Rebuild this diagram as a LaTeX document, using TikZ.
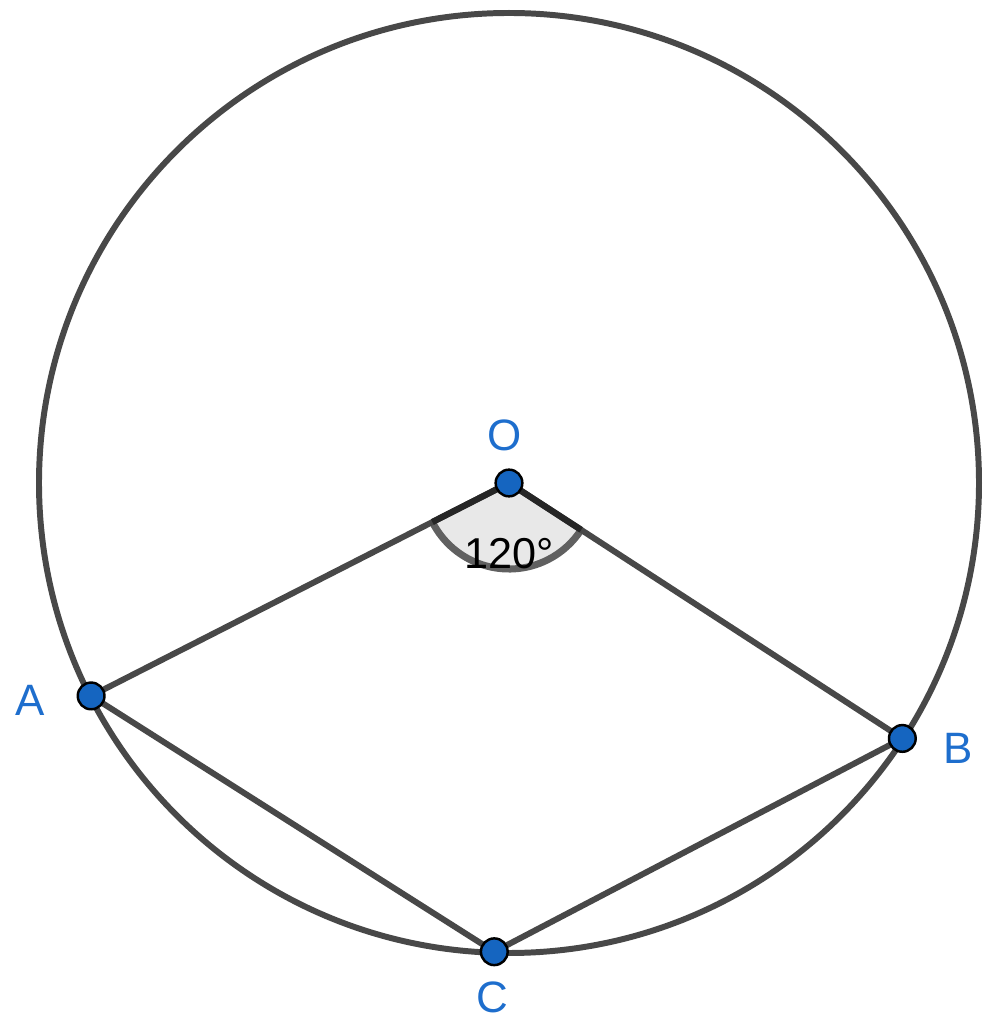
\documentclass[tikz,border=0pt]{standalone}
\usepackage{fontspec}
\setmainfont{Liberation Sans}
\usetikzlibrary{calc}
\definecolor{linegray}{RGB}{72,72,72}
\definecolor{ptblue}{RGB}{21,101,192}
\definecolor{lblblue}{RGB}{30,110,205}
\begin{document}
\begin{tikzpicture}[
  seg/.style={draw=linegray,line width=1.7pt},
  pt/.style={circle,fill=ptblue,draw=black,line width=0.7pt,inner sep=0pt,minimum size=7.6pt},
  lbl/.style={text=lblblue,font=\fontsize{12.5}{14}\selectfont}
]
\useasboundingbox (0,0) rectangle (9.86,10.19);
\coordinate (O) at (5.09,5.36);
\coordinate (A) at ($(O)+(207:4.69)$);
\coordinate (B) at ($(O)+(327:4.69)$);
\coordinate (C) at ($(O)+(268.2:4.69)$);
% angle sector
\fill[gray!18] (O) -- ($(O)+(207:0.86)$) arc[start angle=207,end angle=327,radius=0.86] -- cycle;
\draw[gray!75!black,line width=2pt] ($(O)+(207:0.86)$) arc[start angle=207,end angle=327,radius=0.86];
% circle
\draw[seg] (O) circle[radius=4.70];
% segments
\draw[seg] (O) -- (A);
\draw[seg] (O) -- (B);
\draw[seg] (A) -- (C);
\draw[seg] (B) -- (C);
\draw[black!85,line width=1.8pt] (O) -- ($(O)+(207:0.86)$);
\draw[black!85,line width=1.8pt] (O) -- ($(O)+(327:0.86)$);
\node (ang) at (5.09,4.65) {\fontsize{12.3}{14}\selectfont 120°};
% points
\node[pt] (Op) at (O) {};
\node[pt] (Ap) at (A) {};
\node[pt] (Bp) at (B) {};
\node[pt] (Cp) at (C) {};
% labels
\node[lbl] (Ol) at (5.05,5.84) {O};
\node[lbl] (Al) at (0.30,3.19) {A};
\node[lbl] (Bl) at (9.58,2.71) {B};
\node[lbl] (Cl) at (4.92,0.22) {C};
\end{tikzpicture}
\end{document}
